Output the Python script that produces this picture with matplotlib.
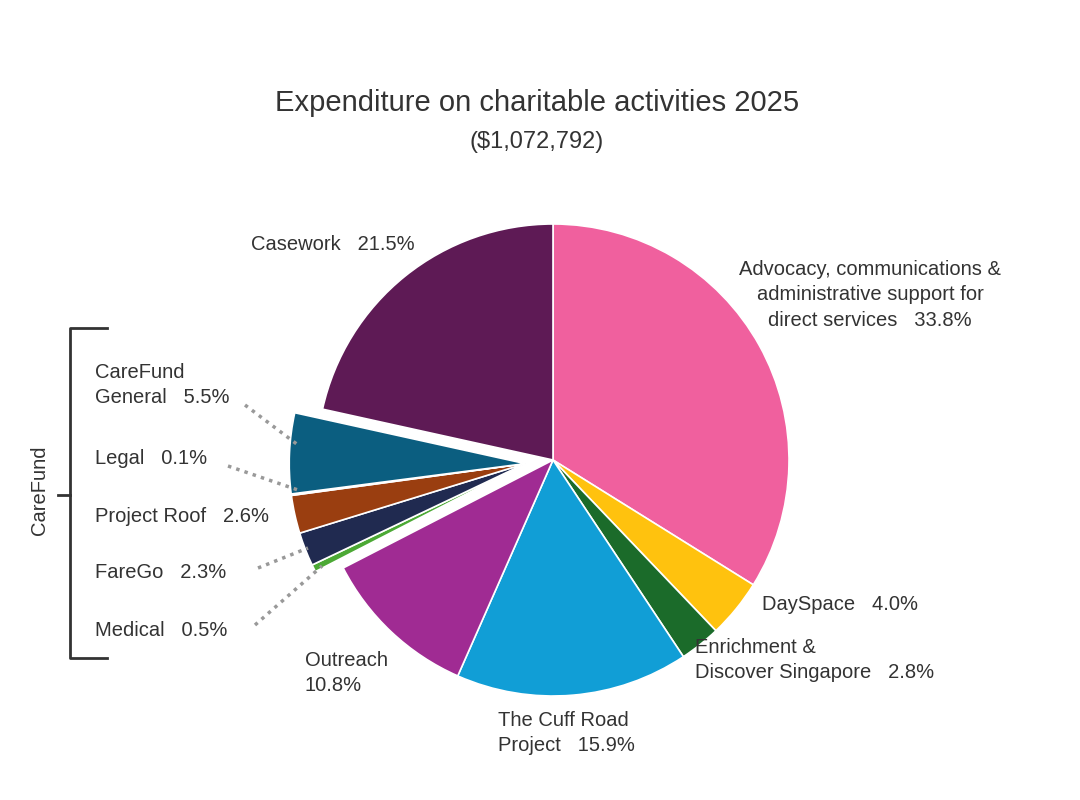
import numpy as np
import matplotlib
matplotlib.use('Agg')
import matplotlib.pyplot as plt

plt.rcParams['font.family'] = ['Liberation Sans', 'DejaVu Sans']

# ---- data (clockwise from 12 o'clock) ----
names = ['Advocacy', 'DaySpace', 'Enrichment', 'Cuff Road', 'Outreach',
         'Medical', 'FareGo', 'Project Roof', 'Legal', 'CareFund General', 'Casework']
shares = [33.8, 4.0, 2.8, 15.9, 10.8, 0.5, 2.3, 2.6, 0.1, 5.5, 21.5]
colors = ['#F0609E', '#FFC20E', '#1B6B2A', '#119ED6', '#A02B93',
          '#4CA935', '#202A50', '#9A3E10', '#E0433A', '#0B5E80', '#5E1A55']
carefund = ['Medical', 'FareGo', 'Project Roof', 'Legal', 'CareFund General']

W, H = 1080, 800
fig = plt.figure(figsize=(10.8, 8), dpi=100)
ax = fig.add_axes([0, 0, 1, 1])
ax.set_xlim(0, W)
ax.set_ylim(0, H)
ax.axis('off')

def Y(py):
    return H - py

cx, cy, R = 553, Y(460), 236
wedges, _ = ax.pie(shares, colors=colors, startangle=90, counterclock=False,
                   radius=R, center=(cx, cy), frame=True,
                   wedgeprops=dict(edgecolor='white', linewidth=1.2))
ax.set_xlim(0, W)
ax.set_ylim(0, H)
ax.axis('off')

# explode the CareFund group as a whole
idx = [names.index(n) for n in carefund]
before = sum(shares[:min(idx)])
mid = before + sum(shares[i] for i in idx) / 2
ang = np.deg2rad(90 - mid / sum(shares) * 360)
off = 28
for i in idx:
    wedges[i].set_center((cx + off * np.cos(ang), cy + off * np.sin(ang)))

tc = '#333333'
fs = 14.5
ax.text(537, Y(103), 'Expenditure on charitable activities 2025', ha='center', va='center',
        fontsize=21, color=tc)
ax.text(537, Y(142), '($1,072,792)', ha='center', va='center', fontsize=17, color=tc)

ax.text(415, Y(245), 'Casework   21.5%', ha='right', va='center', fontsize=fs, color=tc)
ax.text(870, Y(295), 'Advocacy, communications &\nadministrative support for\ndirect services   33.8%',
        ha='center', va='center', fontsize=fs, color=tc, linespacing=1.45)
ax.text(762, Y(605), 'DaySpace   4.0%', ha='left', va='center', fontsize=fs, color=tc)
ax.text(695, Y(660), 'Enrichment &\nDiscover Singapore   2.8%', ha='left', va='center',
        fontsize=fs, color=tc, linespacing=1.45)
ax.text(498, Y(733), 'The Cuff Road\nProject   15.9%', ha='left', va='center',
        fontsize=fs, color=tc, linespacing=1.45)
ax.text(305, Y(673), 'Outreach\n10.8%', ha='left', va='center',
        fontsize=fs, color=tc, linespacing=1.45)

ax.text(95, Y(385), 'CareFund\nGeneral   5.5%', ha='left', va='center', fontsize=fs,
        color=tc, linespacing=1.45)
ax.text(95, Y(458), 'Legal   0.1%', ha='left', va='center', fontsize=fs, color=tc)
ax.text(95, Y(516), 'Project Roof   2.6%', ha='left', va='center', fontsize=fs, color=tc)
ax.text(95, Y(573), 'FareGo   2.3%', ha='left', va='center', fontsize=fs, color=tc)
ax.text(95, Y(631), 'Medical   0.5%', ha='left', va='center', fontsize=fs, color=tc)

# dotted leaders
leaders = [((245, 405), (298, 445)), ((228, 466), (298, 490)),
           ((258, 568), (308, 548)), ((255, 625), (322, 566))]
for (x0, y0), (x1, y1) in leaders:
    ax.plot([x0, x1], [Y(y0), Y(y1)], color='#999999', lw=2.5, ls=(0, (1, 1.5)))

# CareFund bracket
ax.plot([107, 70, 70, 107], [Y(328), Y(328), Y(658), Y(658)], color=tc, lw=2)
ax.plot([58, 70], [Y(495), Y(495)], color=tc, lw=2)
ax.text(40, Y(490), 'CareFund', rotation=90, ha='center', va='center', fontsize=fs, color=tc)

fig.savefig('out.png', dpi=100)
